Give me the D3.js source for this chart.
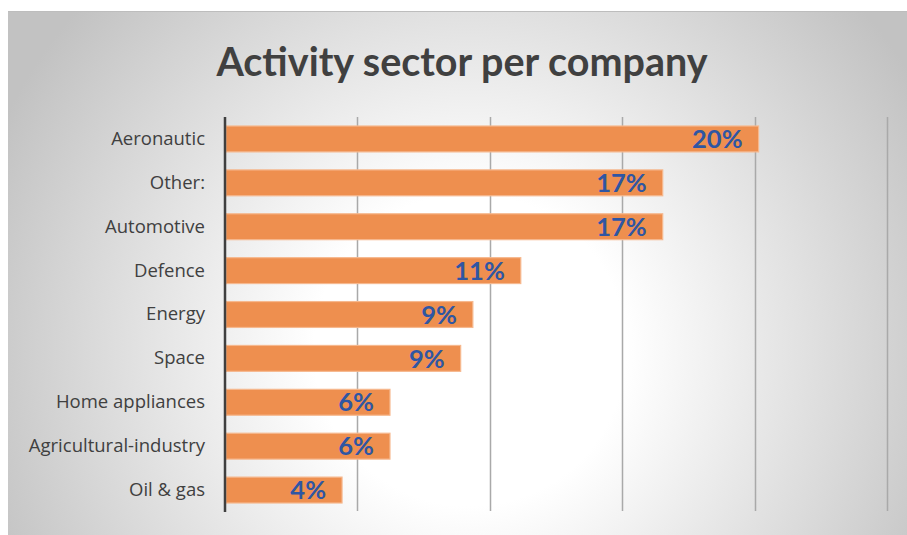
<!DOCTYPE html>
<html>
<head>
<meta charset="utf-8">
<script src="https://cdn.jsdelivr.net/npm/d3@7"></script>
<style>
  html, body { margin: 0; padding: 0; background: #ffffff; }
  svg { display: block; }
</style>
</head>
<body>
<svg id="chart" width="907" height="535"></svg>
<script>
// Share of companies by activity sector (fractions of 1)
const categories = [
  "Aeronautic", "Other:", "Automotive", "Defence", "Energy",
  "Space", "Home appliances ", "Agricultural-industry", "Oil & gas"
];
const shares = [0.2015, 0.1653, 0.1653, 0.1117, 0.0936, 0.0890, 0.0623, 0.0623, 0.0442];
const xTicks = [0, 0.05, 0.10, 0.15, 0.20, 0.25];
const titleText = "Activity sector per company";

const W = 907, H = 535;
const frame = { x: 8, y: 11, w: W - 8, h: H - 11 };
const plot = { left: 225, right: 887, top: 117, bottom: 512 };

const svg = d3.select("#chart");
const defs = svg.append("defs");

// Soft radial background of the chart area
const bg = defs.append("radialGradient")
  .attr("id", "bgGrad")
  .attr("gradientUnits", "userSpaceOnUse")
  .attr("cx", 470).attr("cy", 350).attr("r", 520)
  .attr("fx", 470).attr("fy", 350);
bg.append("stop").attr("offset", "0").attr("stop-color", "#ffffff");
bg.append("stop").attr("offset", "0.3").attr("stop-color", "#ffffff");
bg.append("stop").attr("offset", "1").attr("stop-color", "#c2c2c2");

svg.append("rect")
  .attr("x", frame.x).attr("y", frame.y)
  .attr("width", frame.w).attr("height", frame.h)
  .attr("fill", "url(#bgGrad)");
svg.append("line")
  .attr("x1", frame.x).attr("x2", W)
  .attr("y1", frame.y + 0.5).attr("y2", frame.y + 0.5)
  .attr("stroke", "#bdbdbd").attr("stroke-width", 1);

const x = d3.scaleLinear().domain([0, 0.25]).range([plot.left, plot.right]);
const y = d3.scaleBand().domain(categories)
  .range([plot.top, plot.bottom]).paddingInner(0.41).paddingOuter(0.205);

// Vertical gridlines
svg.append("g")
  .selectAll("line")
  .data(xTicks.slice(1))
  .join("line")
  .attr("x1", d => Math.round(x(d)) + 0.5)
  .attr("x2", d => Math.round(x(d)) + 0.5)
  .attr("y1", plot.top).attr("y2", plot.bottom - 1)
  .attr("stroke", "#a9a9a9").attr("stroke-width", 1.5);

// Bars
svg.append("g")
  .selectAll("rect")
  .data(categories.map((c, i) => ({ c, v: shares[i] })))
  .join("rect")
  .attr("x", x(0) + 1)
  .attr("y", d => y(d.c))
  .attr("width", d => x(d.v) - x(0) - 1)
  .attr("height", y.bandwidth())
  .attr("fill", "#ee8f4f")
  .attr("stroke", "#f6b88e")
  .attr("stroke-width", 1.2);

// Category axis line and labels
const yAxis = d3.axisLeft(y).tickSize(0).tickPadding(20);
const gy = svg.append("g")
  .attr("transform", `translate(${plot.left},0)`)
  .call(yAxis);
gy.select(".domain").remove();
gy.selectAll("text")
  .attr("font-family", "'Open Sans', sans-serif")
  .attr("font-size", 18.5)
  .attr("fill", "#404040");

svg.append("line")
  .attr("x1", plot.left).attr("x2", plot.left)
  .attr("y1", plot.top).attr("y2", plot.bottom)
  .attr("stroke", "#3f3f3f").attr("stroke-width", 2.5);

// Value labels inside the bar ends
const fmt = d3.format(".0%");
svg.append("g")
  .selectAll("text")
  .data(categories.map((c, i) => ({ c, v: shares[i] })))
  .join("text")
  .attr("x", d => x(d.v) - 16)
  .attr("y", d => y(d.c) + y.bandwidth() / 2)
  .attr("dy", "0.36em")
  .attr("text-anchor", "end")
  .attr("font-family", "Lato, sans-serif")
  .attr("font-weight", "bold")
  .attr("font-size", 25.5)
  .attr("fill", "#2f56a3")
  .text(d => fmt(d.v));

// Title
svg.append("text")
  .attr("x", 462).attr("y", 76)
  .attr("text-anchor", "middle")
  .attr("font-family", "Lato, sans-serif")
  .attr("font-weight", "bold")
  .attr("font-size", 39.5)
  .attr("fill", "#404040")
  .text(titleText);
</script>
</body>
</html>
